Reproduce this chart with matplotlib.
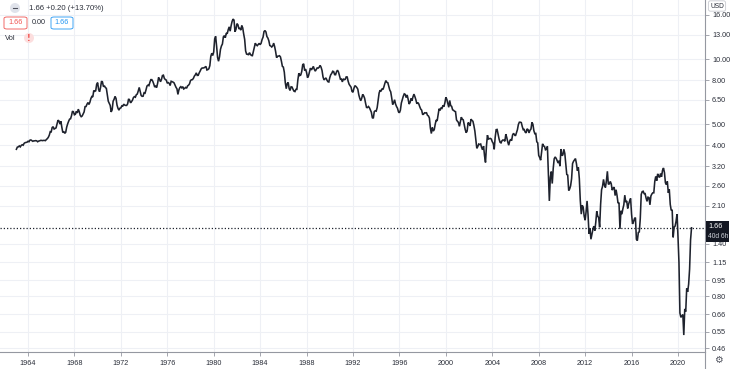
import matplotlib
matplotlib.use('Agg')
import matplotlib.pyplot as plt
from matplotlib.patches import FancyBboxPatch, Ellipse, Rectangle
import numpy as np

plt.rcParams['font.family'] = ['Liberation Sans', 'DejaVu Sans']

# monthly closes, US 10y yield, Jan 1963 .. Mar 2021 (one row per year)
start_year = 1963
y1963 = [3.83, 3.92, 3.93, 3.97, 3.93, 3.99, 4.02, 4.00, 4.08, 4.11, 4.12, 4.13]
y1964 = [4.17, 4.15, 4.22, 4.23, 4.20, 4.17, 4.19, 4.19, 4.20, 4.19, 4.15, 4.18]
y1965 = [4.19, 4.21, 4.21, 4.20, 4.21, 4.21, 4.20, 4.25, 4.29, 4.35, 4.45, 4.62]
y1966 = [4.61, 4.83, 4.87, 4.75, 4.78, 4.81, 5.02, 5.22, 5.18, 5.01, 5.16, 4.84]
y1967 = [4.58, 4.63, 4.54, 4.59, 4.85, 5.02, 5.16, 5.28, 5.30, 5.48, 5.75, 5.70]
y1968 = [5.53, 5.56, 5.74, 5.64, 5.87, 5.72, 5.50, 5.42, 5.46, 5.58, 5.70, 6.03]
y1969 = [6.04, 6.19, 6.30, 6.17, 6.32, 6.57, 6.72, 6.69, 7.16, 7.10, 7.14, 7.65]
y1970 = [7.79, 7.24, 7.07, 7.39, 7.91, 7.84, 7.46, 7.53, 7.39, 7.33, 6.84, 6.39]
y1971 = [6.24, 6.11, 5.70, 5.83, 6.39, 6.52, 6.73, 6.58, 6.14, 5.93, 5.81, 5.93]
y1972 = [5.95, 6.08, 6.07, 6.19, 6.13, 6.11, 6.11, 6.21, 6.55, 6.48, 6.28, 6.36]
y1973 = [6.46, 6.64, 6.71, 6.67, 6.85, 6.90, 7.13, 7.40, 7.09, 6.79, 6.73, 6.74]
y1974 = [6.99, 6.96, 7.21, 7.51, 7.58, 7.54, 7.81, 8.04, 8.04, 7.90, 7.68, 7.43]
y1975 = [7.50, 7.39, 7.73, 8.23, 8.06, 7.86, 8.06, 8.40, 8.43, 8.14, 8.05, 8.00]
y1976 = [7.74, 7.79, 7.73, 7.56, 7.90, 7.86, 7.83, 7.77, 7.59, 7.41, 7.29, 6.87]
y1977 = [7.21, 7.39, 7.46, 7.37, 7.46, 7.28, 7.33, 7.40, 7.34, 7.52, 7.58, 7.69]
y1978 = [7.96, 8.03, 8.04, 8.15, 8.35, 8.46, 8.64, 8.41, 8.42, 8.64, 8.81, 9.01]
y1979 = [9.10, 9.10, 9.12, 9.18, 9.25, 8.91, 8.95, 9.03, 9.33, 10.30, 10.65, 10.39]
y1980 = [10.80, 12.41, 12.75, 11.47, 10.18, 9.78, 10.25, 11.10, 11.51, 11.75, 12.68, 12.84]
y1981 = [12.57, 13.19, 13.12, 13.68, 14.10, 13.47, 14.28, 14.94, 15.32, 15.15, 13.39, 13.72]
y1982 = [14.59, 14.43, 13.86, 13.87, 13.62, 14.30, 13.95, 13.06, 12.34, 10.91, 10.55, 10.54]
y1983 = [10.46, 10.72, 10.51, 10.40, 10.38, 10.85, 11.38, 11.85, 11.65, 11.54, 11.69, 11.83]
y1984 = [11.67, 11.84, 12.32, 12.63, 13.41, 13.56, 13.36, 12.72, 12.52, 12.16, 11.57, 11.50]
y1985 = [11.38, 11.51, 11.86, 11.43, 10.85, 10.16, 10.31, 10.33, 10.37, 10.24, 9.78, 9.26]
y1986 = [9.19, 8.70, 7.78, 7.30, 7.71, 7.80, 7.30, 7.17, 7.45, 7.43, 7.25, 7.11]
y1987 = [7.08, 7.25, 7.25, 8.02, 8.61, 8.40, 8.45, 8.76, 9.42, 9.52, 8.86, 8.99]
y1988 = [8.67, 8.21, 8.37, 8.72, 9.09, 8.92, 9.06, 9.26, 8.98, 8.80, 8.96, 9.11]
y1989 = [9.09, 9.17, 9.36, 9.18, 8.86, 8.28, 8.02, 8.11, 8.19, 8.01, 7.87, 7.84]
y1990 = [8.21, 8.47, 8.59, 8.79, 8.76, 8.48, 8.47, 8.75, 8.89, 8.72, 8.39, 8.08]
y1991 = [8.09, 7.85, 8.11, 8.04, 8.07, 8.28, 8.27, 7.90, 7.65, 7.53, 7.42, 7.09]
y1992 = [7.03, 7.34, 7.54, 7.48, 7.39, 7.26, 6.84, 6.59, 6.42, 6.59, 6.87, 6.77]
y1993 = [6.60, 6.26, 5.98, 5.97, 6.04, 5.96, 5.81, 5.68, 5.36, 5.33, 5.72, 5.77]
y1994 = [5.75, 5.97, 6.48, 6.97, 7.18, 7.10, 7.30, 7.24, 7.46, 7.74, 7.96, 7.81]
y1995 = [7.78, 7.47, 7.20, 7.06, 6.63, 6.17, 6.28, 6.49, 6.20, 6.04, 5.93, 5.71]
y1996 = [5.65, 5.81, 6.27, 6.51, 6.74, 6.91, 6.87, 6.64, 6.83, 6.53, 6.20, 6.30]
y1997 = [6.58, 6.42, 6.69, 6.89, 6.71, 6.49, 6.22, 6.30, 6.21, 6.03, 5.88, 5.81]
y1998 = [5.54, 5.57, 5.65, 5.64, 5.65, 5.50, 5.46, 5.34, 4.81, 4.53, 4.83, 4.65]
y1999 = [4.72, 5.00, 5.23, 5.18, 5.54, 5.90, 5.79, 5.94, 5.92, 6.11, 6.03, 6.28]
y2000 = [6.66, 6.52, 6.26, 5.99, 6.44, 6.10, 6.05, 5.83, 5.80, 5.74, 5.72, 5.24]
y2001 = [5.16, 5.10, 4.89, 5.14, 5.39, 5.28, 5.24, 4.97, 4.73, 4.57, 4.65, 5.09]
y2002 = [5.04, 4.91, 5.28, 5.21, 5.16, 4.93, 4.65, 4.26, 3.87, 3.94, 4.05, 4.03]
y2003 = [4.05, 3.90, 3.81, 3.96, 3.57, 3.33, 3.98, 4.45, 4.27, 4.29, 4.30, 4.27]
y2004 = [4.15, 4.08, 3.83, 4.35, 4.72, 4.73, 4.50, 4.28, 4.13, 4.10, 4.19, 4.23]
y2005 = [4.22, 4.17, 4.50, 4.34, 4.14, 4.00, 4.18, 4.26, 4.20, 4.46, 4.54, 4.47]
y2006 = [4.42, 4.57, 4.72, 4.99, 5.11, 5.11, 5.09, 4.88, 4.72, 4.73, 4.60, 4.56]
y2007 = [4.76, 4.72, 4.56, 4.69, 4.75, 5.10, 5.00, 4.67, 4.52, 4.53, 4.15, 4.10]
y2008 = [3.59, 3.51, 3.41, 3.73, 4.06, 3.97, 3.95, 3.81, 3.83, 3.95, 2.92, 2.21]
y2009 = [2.84, 3.02, 2.66, 3.12, 3.46, 3.53, 3.48, 3.40, 3.31, 3.39, 3.20, 3.84]
y2010 = [3.58, 3.61, 3.83, 3.66, 3.29, 2.93, 2.91, 2.47, 2.51, 2.60, 2.80, 3.29]
y2011 = [3.37, 3.42, 3.47, 3.29, 3.05, 3.16, 2.80, 2.22, 1.92, 2.11, 2.07, 1.88]
y2012 = [1.80, 1.97, 2.21, 1.91, 1.56, 1.65, 1.47, 1.55, 1.63, 1.69, 1.61, 1.76]
y2013 = [1.98, 1.88, 1.85, 1.67, 2.13, 2.49, 2.58, 2.78, 2.61, 2.55, 2.74, 3.03]
y2014 = [2.64, 2.65, 2.72, 2.65, 2.48, 2.53, 2.56, 2.34, 2.49, 2.34, 2.16, 2.17]
y2015 = [1.64, 1.99, 1.92, 2.03, 2.12, 2.35, 2.18, 2.21, 2.04, 2.14, 2.21, 2.27]
y2016 = [1.92, 1.73, 1.77, 1.83, 1.85, 1.47, 1.45, 1.58, 1.59, 1.83, 2.37, 2.44]
y2017 = [2.45, 2.39, 2.39, 2.28, 2.20, 2.30, 2.29, 2.12, 2.33, 2.38, 2.41, 2.41]
y2018 = [2.72, 2.87, 2.74, 2.95, 2.86, 2.85, 2.96, 2.86, 3.06, 3.14, 2.99, 2.68]
y2019 = [2.63, 2.72, 2.41, 2.50, 2.13, 2.00, 2.01, 1.50, 1.67, 1.69, 1.78, 1.92]
y2020 = [1.51, 1.15, 0.67, 0.64, 0.65, 0.66, 0.53, 0.70, 0.68, 0.87, 0.84, 0.91]
y2021 = [1.07, 1.46, 1.66]

rows = [y1963, y1964, y1965, y1966, y1967, y1968, y1969, y1970, y1971, y1972,
        y1973, y1974, y1975, y1976, y1977, y1978, y1979, y1980, y1981, y1982,
        y1983, y1984, y1985, y1986, y1987, y1988, y1989, y1990, y1991, y1992,
        y1993, y1994, y1995, y1996, y1997, y1998, y1999, y2000, y2001, y2002,
        y2003, y2004, y2005, y2006, y2007, y2008, y2009, y2010, y2011, y2012,
        y2013, y2014, y2015, y2016, y2017, y2018, y2019, y2020, y2021]
values = [v for r in rows for v in r]
dates = [start_year + i / 12 for i in range(len(values))]

last_value = 1.66
change_text = '1.66 +0.20 (+13.70%)'
countdown = '40d 6h'
year_ticks = [1964, 1968, 1972, 1976, 1980, 1984, 1988, 1992, 1996, 2000, 2004, 2008, 2012, 2016, 2020]
price_ticks = [16.00, 13.00, 10.00, 8.00, 6.50, 5.00, 4.00, 3.20, 2.60, 2.10, 1.40, 1.15, 0.95, 0.80, 0.66, 0.55, 0.46]

W, H = 730, 369
fig = plt.figure(figsize=(W / 100, H / 100), dpi=100)
ax = fig.add_axes([0, (H - 352) / H, 705 / W, 352 / H])

line_c = '#1e222d'
grid_c = '#eef0f5'
axis_c = '#9598a1'
text_c = '#2a2e39'

ax.plot(dates, values, color=line_c, lw=1.15, solid_joinstyle='miter')
ax.set_yscale('log')
ax.set_ylim(0.4425, 18.77)
ax.set_xlim(1961.588, 1961.588 + 705 / 11.607)

ax.yaxis.tick_right()
ax.set_yticks(price_ticks)
ax.set_yticklabels(['%.2f' % t for t in price_ticks])
ax.yaxis.set_minor_locator(matplotlib.ticker.NullLocator())
ax.set_xticks(year_ticks)
ax.set_xticklabels([str(y) for y in year_ticks])
ax.tick_params(axis='y', length=3, width=0.6, color=axis_c, pad=2, labelsize=5.2, labelcolor=text_c)
ax.tick_params(axis='x', length=3, width=0.6, color=axis_c, pad=2.5, labelsize=5.2, labelcolor=text_c)
ax.grid(True, color=grid_c, lw=0.8)
ax.set_axisbelow(True)
for s in ['top', 'left']:
    ax.spines[s].set_visible(False)
ax.spines['right'].set_color(axis_c)
ax.spines['bottom'].set_color(axis_c)
ax.spines['right'].set_linewidth(0.8)
ax.spines['bottom'].set_linewidth(0.8)

# dotted last-price line
ax.axhline(last_value, color=line_c, lw=0.9, ls=(0, (1, 1.6)))

# separator continues below the time axis
fig.add_artist(plt.Line2D([705 / W, 705 / W], [0, 17 / H], color=axis_c, lw=0.8))

# last price label on the scale
ypx = ax.transData.transform((2000, last_value))[1]
fig.add_artist(Rectangle((706 / W, (ypx - 14) / H), 23 / W, 21 / H, facecolor='#131722',
                         edgecolor='none', transform=fig.transFigure))
fig.text(708 / W, (ypx + 1) / H, '%.2f' % last_value, color='white', fontsize=5.2, va='center')
fig.text(708 / W, (ypx - 8.5) / H, countdown, color='#d1d4dc', fontsize=4.8, va='center')

# currency badge
fig.text(717 / W, 1 - 6 / H, 'USD', fontsize=4.8, color=text_c, ha='center', va='center',
         bbox=dict(boxstyle='round,pad=0.25,rounding_size=0.3', fc='white', ec='#c9cbd1', lw=0.6))

# settings gear
fig.text(718 / W, 1 - 360 / H, '\u2699', fontsize=7, color='#50535e', ha='center', va='center',
         family='DejaVu Sans')

# legend header
fig.add_artist(Ellipse((15 / W, 1 - 8 / H), 10 / W, 10 / H, facecolor='#e0e3eb', edgecolor='none',
                       transform=fig.transFigure))
fig.add_artist(plt.Line2D([13 / W, 17 / W], [1 - 8 / H, 1 - 8 / H], color='#50535e', lw=0.8))
fig.text(29 / W, 1 - 8 / H, change_text, fontsize=5.6, color=text_c, va='center')

def badge(x0, w, label, ec):
    fig.add_artist(FancyBboxPatch((x0 / W, 1 - 29 / H), w / W, 12 / H,
                                  boxstyle='round,pad=0,rounding_size=0.004',
                                  facecolor='white', edgecolor=ec, lw=0.6,
                                  transform=fig.transFigure))
    fig.text((x0 + w / 2) / W, 1 - 23 / H, label, fontsize=5.2, color=ec,
             ha='center', va='center')

badge(4, 23, '1.66', '#ef5350')
fig.text(39 / W, 1 - 23 / H, '0.00', fontsize=5.2, color=text_c, ha='center', va='center')
badge(51, 22, '1.66', '#2196f3')

fig.text(5 / W, 1 - 38 / H, 'Vol', fontsize=5.4, color=text_c, va='center')
fig.add_artist(Ellipse((29 / W, 1 - 38 / H), 10 / W, 10 / H, facecolor='#fcdede', edgecolor='none',
                       transform=fig.transFigure))
fig.text(29 / W, 1 - 38.5 / H, '!', fontsize=5.5, color='#ef5350', ha='center', va='center',
         fontweight='bold', family='DejaVu Sans')

fig.savefig('out.png', dpi=100, facecolor='white')
